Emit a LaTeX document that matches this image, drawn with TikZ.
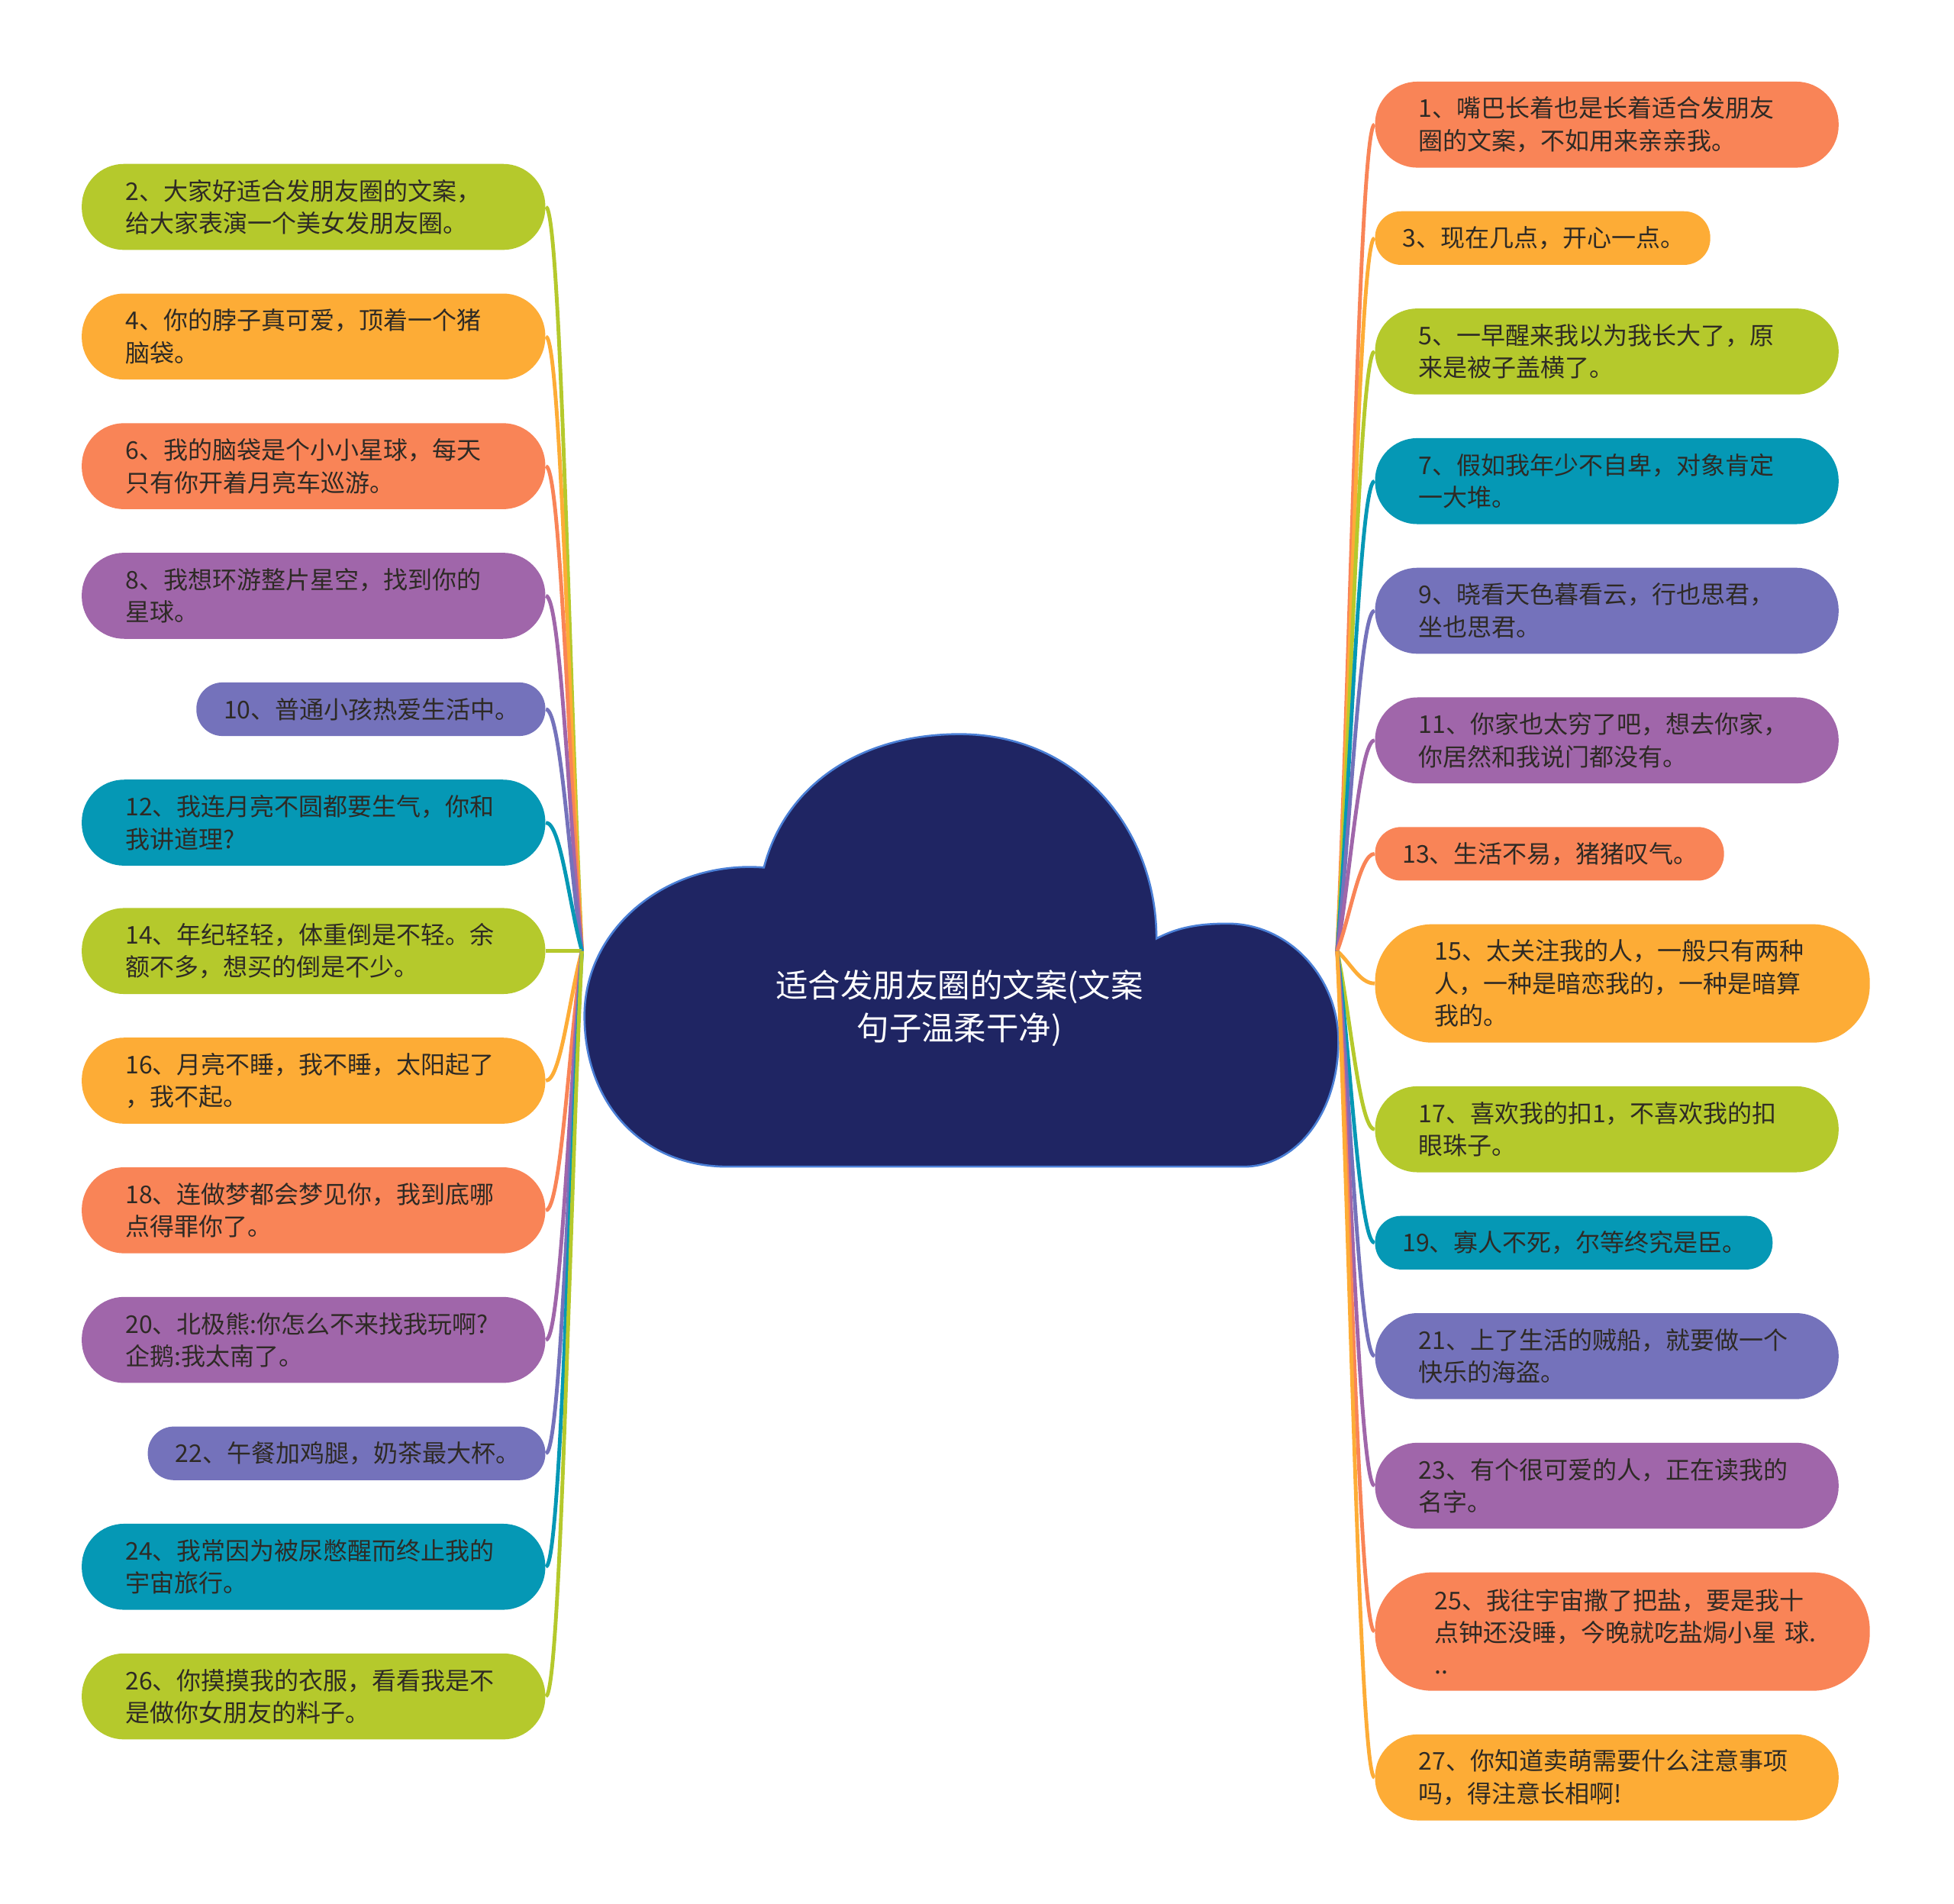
\documentclass[tikz,border=0pt]{standalone}
\usepackage{fontspec}
\setmainfont{Noto Sans CJK SC}
\usepackage{xcolor}
\usetikzlibrary{calc}

\definecolor{cgreen}{HTML}{B5C92C}
\definecolor{corange}{HTML}{FDAC36}
\definecolor{ccoral}{HTML}{F98457}
\definecolor{cpurple}{HTML}{A066AA}
\definecolor{cslate}{HTML}{7472BB}
\definecolor{cteal}{HTML}{0598B5}
\definecolor{cloudfill}{HTML}{1F2563}
\definecolor{cloudline}{HTML}{4A7FD6}
\definecolor{ink}{HTML}{2E2A25}

\begin{document}
\begin{tikzpicture}[
  x=0.5pt, y=-0.5pt,
  leaf/.style={rounded corners=17pt, minimum height=34.5pt, inner xsep=17.5pt, inner ysep=0pt,
    text width=151pt, align=left, text=ink, font=\fontsize{9.8}{13}\selectfont},
  shortleaf/.style={leaf, rounded corners=10.5pt, minimum height=21.5pt, inner xsep=11pt},
  tallleaf/.style={leaf, rounded corners=23pt, minimum height=47.5pt, inner xsep=24pt, text width=150.5pt},
  conn/.style={line width=1.5pt},
  tol/.style={to path={.. controls ($(\tikztostart)!0.35!(\tikztotarget)$) and ($(\tikztotarget)+(12,0)$) .. (\tikztotarget)}},
  tor/.style={to path={.. controls ($(\tikztostart)!0.35!(\tikztotarget)$) and ($(\tikztotarget)+(-12,0)$) .. (\tikztotarget)}}
]
\useasboundingbox (0,0) rectangle (1568,1527);
\fill[white] (0,0) rectangle (1568,1527);

% cloud
\filldraw[fill=cloudfill, draw=cloudline, line width=0.8pt]
  (584,936) .. controls (515,936) and (469,885) .. (469,815)
  .. controls (469,745) and (535,690) .. (613,696)
  .. controls (630,630) and (690,589) .. (770,589)
  .. controls (865,589) and (928,665) .. (928,753)
  .. controls (945,744) and (962,741) .. (985,741)
  .. controls (1035,741) and (1074,785) .. (1074,835)
  .. controls (1074,893) and (1040,936) .. (998,936)
  -- cycle;
\node[text=white, align=center, font=\fontsize{13}{17}\selectfont] (root) at (770,809) {适合发朋友圈的文案(文案\\句子温柔干净)};
\coordinate (hubL) at (467,763);
\coordinate (hubR) at (1073,763);

% left side
\node[leaf, fill=cgreen, anchor=east] (n2) at (438,166) {2、大家好适合发朋友圈的文案，\\给大家表演一个美女发朋友圈。};
\node[leaf, fill=corange, anchor=east] (n4) at (438,270) {4、你的脖子真可爱，顶着一个猪\\脑袋。};
\node[leaf, fill=ccoral, anchor=east] (n6) at (438,374) {6、我的脑袋是个小小星球，每天\\只有你开着月亮车巡游。};
\node[leaf, fill=cpurple, anchor=east] (n8) at (438,478) {8、我想环游整片星空，找到你的\\星球。};
\node[shortleaf, fill=cslate, anchor=east, text width=118pt] (n10) at (438,569) {10、普通小孩热爱生活中。};
\node[leaf, fill=cteal, anchor=east] (n12) at (438,660) {12、我连月亮不圆都要生气，你和\\我讲道理?};
\node[leaf, fill=cgreen, anchor=east] (n14) at (438,763) {14、年纪轻轻，体重倒是不轻。余\\额不多，想买的倒是不少。};
\node[leaf, fill=corange, anchor=east] (n16) at (438,867) {16、月亮不睡，我不睡，太阳起了\\，我不起。};
\node[leaf, fill=ccoral, anchor=east] (n18) at (438,971) {18、连做梦都会梦见你，我到底哪\\点得罪你了。};
\node[leaf, fill=cpurple, anchor=east] (n20) at (438,1075) {20、北极熊:你怎么不来找我玩啊?\\企鹅:我太南了。};
\node[shortleaf, fill=cslate, anchor=east, text width=137.5pt] (n22) at (438,1166) {22、午餐加鸡腿，奶茶最大杯。};
\node[leaf, fill=cteal, anchor=east] (n24) at (438,1257) {24、我常因为被尿憋醒而终止我的\\宇宙旅行。};
\node[leaf, fill=cgreen, anchor=east] (n26) at (438,1361) {26、你摸摸我的衣服，看看我是不\\是做你女朋友的料子。};

% right side
\node[leaf, fill=ccoral, anchor=west] (n1) at (1103,100) {1、嘴巴长着也是长着适合发朋友\\圈的文案，不如用来亲亲我。};
\node[shortleaf, fill=corange, anchor=west, text width=112.5pt] (n3) at (1103,191) {3、现在几点，开心一点。};
\node[leaf, fill=cgreen, anchor=west] (n5) at (1103,282) {5、一早醒来我以为我长大了，原\\来是被子盖横了。};
\node[leaf, fill=cteal, anchor=west] (n7) at (1103,386) {7、假如我年少不自卑，对象肯定\\一大堆。};
\node[leaf, fill=cslate, anchor=west] (n9) at (1103,490) {9、晓看天色暮看云，行也思君，\\坐也思君。};
\node[leaf, fill=cpurple, anchor=west] (n11) at (1103,594) {11、你家也太穷了吧，想去你家，\\你居然和我说门都没有。};
\node[shortleaf, fill=ccoral, anchor=west, text width=118pt] (n13) at (1103,685) {13、生活不易，猪猪叹气。};
\node[tallleaf, fill=corange, anchor=west] (n15) at (1103,789) {15、太关注我的人，一般只有两种\\人，一种是暗恋我的，一种是暗算\\我的。};
\node[leaf, fill=cgreen, anchor=west] (n17) at (1103,906) {17、喜欢我的扣1，不喜欢我的扣\\眼珠子。};
\node[shortleaf, fill=cteal, anchor=west, text width=137.5pt] (n19) at (1103,997) {19、寡人不死，尔等终究是臣。};
\node[leaf, fill=cslate, anchor=west] (n21) at (1103,1088) {21、上了生活的贼船，就要做一个\\快乐的海盗。};
\node[leaf, fill=cpurple, anchor=west] (n23) at (1103,1192) {23、有个很可爱的人，正在读我的\\名字。};
\node[tallleaf, fill=ccoral, anchor=west] (n25) at (1103,1309) {25、我往宇宙撒了把盐，要是我十\\点钟还没睡，今晚就吃盐焗小星~球.\\..};
\node[leaf, fill=corange, anchor=west] (n27) at (1103,1426) {27、你知道卖萌需要什么注意事项\\吗，得注意长相啊!};

% connectors
\draw[conn, cgreen] (hubL) to[tol] (n2.east);
\draw[conn, corange] (hubL) to[tol] (n4.east);
\draw[conn, ccoral] (hubL) to[tol] (n6.east);
\draw[conn, cpurple] (hubL) to[tol] (n8.east);
\draw[conn, cslate] (hubL) to[tol] (n10.east);
\draw[conn, cteal] (hubL) to[tol] (n12.east);
\draw[conn, cgreen] (hubL) to[tol] (n14.east);
\draw[conn, corange] (hubL) to[tol] (n16.east);
\draw[conn, ccoral] (hubL) to[tol] (n18.east);
\draw[conn, cpurple] (hubL) to[tol] (n20.east);
\draw[conn, cslate] (hubL) to[tol] (n22.east);
\draw[conn, cteal] (hubL) to[tol] (n24.east);
\draw[conn, cgreen] (hubL) to[tol] (n26.east);

\draw[conn, ccoral] (hubR) to[tor] (n1.west);
\draw[conn, corange] (hubR) to[tor] (n3.west);
\draw[conn, cgreen] (hubR) to[tor] (n5.west);
\draw[conn, cteal] (hubR) to[tor] (n7.west);
\draw[conn, cslate] (hubR) to[tor] (n9.west);
\draw[conn, cpurple] (hubR) to[tor] (n11.west);
\draw[conn, ccoral] (hubR) to[tor] (n13.west);
\draw[conn, corange] (hubR) to[tor] (n15.west);
\draw[conn, cgreen] (hubR) to[tor] (n17.west);
\draw[conn, cteal] (hubR) to[tor] (n19.west);
\draw[conn, cslate] (hubR) to[tor] (n21.west);
\draw[conn, cpurple] (hubR) to[tor] (n23.west);
\draw[conn, ccoral] (hubR) to[tor] (n25.west);
\draw[conn, corange] (hubR) to[tor] (n27.west);

\end{tikzpicture}
\end{document}
